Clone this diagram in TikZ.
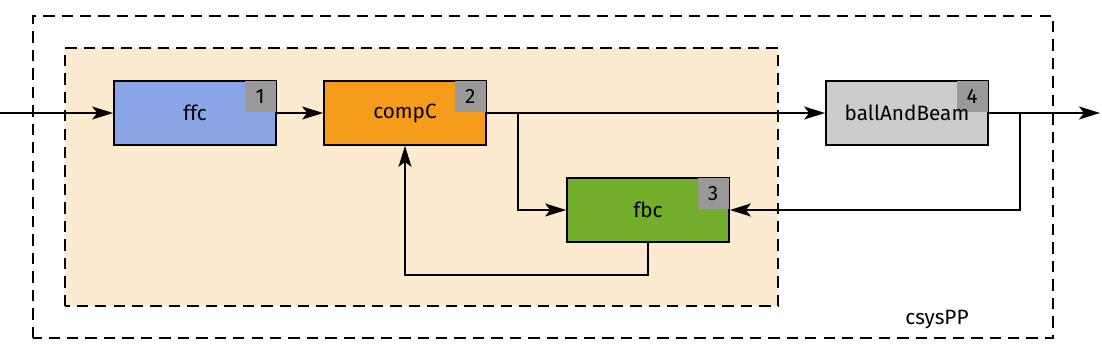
\documentclass[tikz,border=0pt]{standalone}
\usepackage{fontspec}
\setmainfont{Fira Sans}
\usepackage{xcolor}
\usepackage{tikz}
\usetikzlibrary{arrows.meta}

\definecolor{ffcblue}{HTML}{8AA4E5}
\definecolor{compcorange}{HTML}{F59C1A}
\definecolor{fbcgreen}{HTML}{72AE2B}
\definecolor{plantgray}{HTML}{CCCCCC}
\definecolor{badgegray}{HTML}{999999}
\definecolor{groupfill}{HTML}{FCEBD0}

\tikzset{
    every node/.style={font=\fontsize{11.8}{14}\selectfont},
    block/.style={draw, line width=1pt, minimum width=3.24cm, minimum height=1.28cm, inner sep=0pt},
    badge/.style={fill=badgegray, minimum size=0.62cm, inner sep=0pt, anchor=north east},
    sig/.style={line width=0.9pt, -{Stealth[length=4.2mm, width=2.6mm, inset=1mm]}},
    grp/.style={line width=0.9pt, dash pattern=on 6.5pt off 4pt}
}

\begin{document}
\begin{tikzpicture}
    \useasboundingbox (0,0) rectangle (22.04,7.12);
    \draw[grp] (0.66,0.36) rectangle (21.06,6.8);
    \draw[grp, fill=groupfill] (1.3,1.0) rectangle (15.56,6.16);
    \node at (18.74,0.72) {csysPP};

    \node[block, fill=ffcblue] (ffc) at (3.9,4.86) {ffc};
    \node[badge] (ffcnum) at ([xshift=-0.5pt,yshift=-0.5pt]ffc.north east) {1};
    \node[block, fill=compcorange] (compC) at (8.1,4.86) {compC};
    \node[badge] (compCnum) at ([xshift=-0.5pt,yshift=-0.5pt]compC.north east) {2};
    \node[block, fill=fbcgreen] (fbc) at (12.96,2.92) {fbc};
    \node[badge] (fbcnum) at ([xshift=-0.5pt,yshift=-0.5pt]fbc.north east) {3};
    \node[block, fill=plantgray] (ballAndBeam) at (18.14,4.86) {};
    \node[badge] (ballAndBeamnum) at ([xshift=-0.5pt,yshift=-0.5pt]ballAndBeam.north east) {4};
    \node at (ballAndBeam) {ballAndBeam};

    \coordinate (in) at (0,4.86);
    \coordinate (out) at (22.0,4.86);
    \coordinate (split1) at (10.36,4.86);
    \coordinate (split2) at (20.4,4.86);

    \draw[sig] (in) -- (ffc);
    \draw[sig] (ffc) -- (compC);
    \draw[sig] (compC) -- (ballAndBeam);
    \draw[sig] (split1) |- (fbc);
    \draw[sig] (ballAndBeam) -- (out);
    \draw[sig] (split2) |- (fbc);
    \draw[sig] (fbc.south) -- ++(0,-0.64) -| (compC.south);
\end{tikzpicture}
\end{document}
